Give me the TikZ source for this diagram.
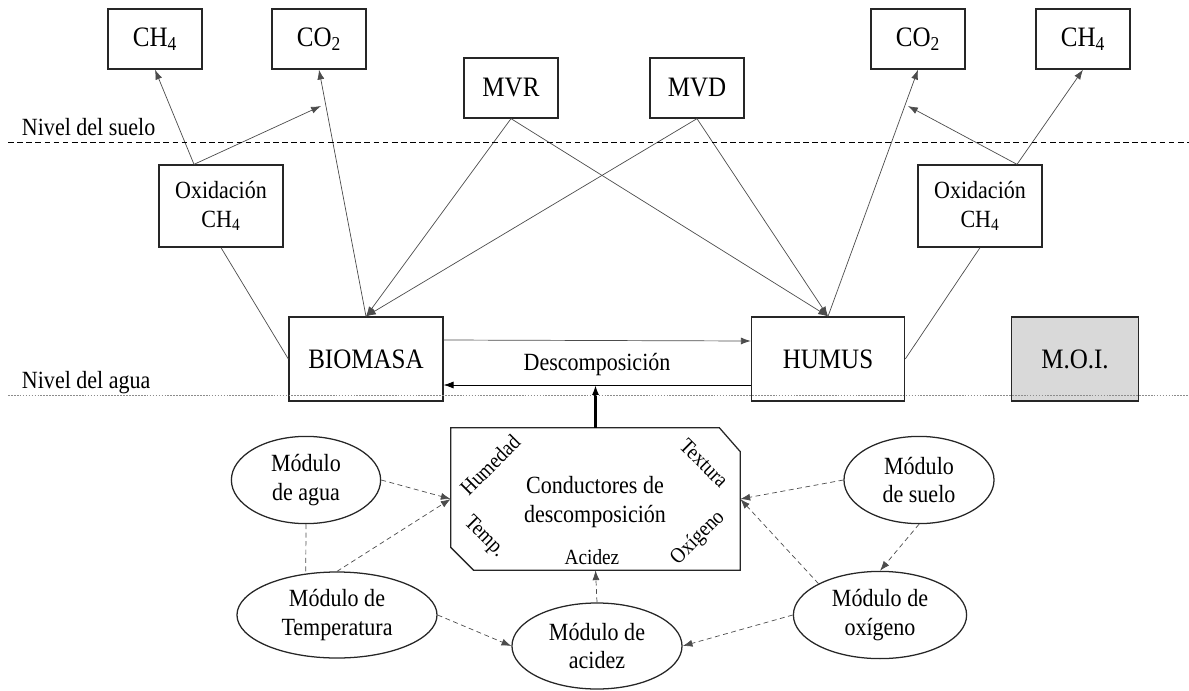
\documentclass[tikz,border=0pt]{standalone}
\usepackage{fontspec}
\setmainfont{Liberation Serif}[FakeStretch=0.89]
\usetikzlibrary{shapes.geometric,arrows.meta,calc}

\newcommand{\bigtxt}{\fontsize{20}{23}\selectfont}
\newcommand{\midtxt}{\fontsize{17.6}{20.5}\selectfont}
\newcommand{\smalltxt}{\fontsize{15.4}{18}\selectfont}

\begin{document}
\begin{tikzpicture}[x=0.025cm, y=-0.025cm,
    box/.style={draw=black!85, line width=0.9pt, inner sep=0pt, align=center},
    gasbox/.style={box, minimum width=2.35cm, minimum height=1.5cm, font=\bigtxt},
    poolbox/.style={box, minimum height=2.1cm, font=\bigtxt},
    oxbox/.style={box, minimum width=3.1cm, minimum height=2.05cm, font=\midtxt},
    oval/.style={ellipse, draw=black!85, line width=0.9pt, inner sep=0pt, align=center, font=\midtxt},
    link/.style={draw=black!70, line width=0.5pt},
    flow/.style={link, -{Latex[length=7pt,width=5pt]}},
    dlink/.style={link, dash pattern=on 3.5pt off 2.5pt},
    dflow/.style={dlink, -{Latex[length=7pt,width=5pt]}}]

    \useasboundingbox (0,0) rectangle (1189,690);

    %% Gases above the soil

    % Left side
    \node[gasbox] (ch4l) at (155,39) {CH\textsubscript{4}};
    \node[gasbox] (co2l) at (319,39) {CO\textsubscript{2}};

    % Plant material
    \node[gasbox] (mvr) at (511,88) {MVR};
    \node[gasbox] (mvd) at (697,88) {MVD};

    % Right side
    \node[gasbox] (co2r) at (918,39) {CO\textsubscript{2}};
    \node[gasbox] (ch4r) at (1083,39) {CH\textsubscript{4}};

    %% Oxidation layer
    \node[oxbox] (oxl) at (221,206) {Oxidación\\CH\textsubscript{4}};
    \node[oxbox] (oxr) at (980,206) {Oxidación\\CH\textsubscript{4}};

    %% Pools
    \node[poolbox, minimum width=3.85cm] (biomasa) at (366,359) {BIOMASA};
    \node[poolbox, minimum width=3.83cm] (humus) at (828,359) {HUMUS};
    \node[poolbox, minimum width=3.18cm, fill=black!15] (moi) at (1075,359) {M.O.I.};
    \node[font=\midtxt] (desc) at (597,365) {Descomposición};

    %% Decomposition drivers
    \node[minimum width=7.225cm, minimum height=3.55cm] (cond) at (595.5,499) {};
    \draw[line width=0.9pt, black!85] (cond.north west) -- ($(cond.north east)+(-21,0)$)
        -- ($(cond.north east)+(0,24)$) -- (cond.south east)
        -- ($(cond.south west)+(23,0)$) -- ($(cond.south west)+(0,-23)$) -- cycle;
    \node[font=\midtxt, align=center] (condtxt) at (595,502) {Conductores de\\descomposición};
    \node[font=\smalltxt, rotate=45] (hum) at (490,465) {Humedad};
    \node[font=\smalltxt, rotate=-45] (tex) at (704,463) {Textura};
    \node[font=\smalltxt, rotate=-45] (tmp) at (484,537) {Temp.};
    \node[font=\smalltxt, rotate=45] (oxg) at (698,538) {Oxígeno};
    \node[font=\smalltxt] (aci) at (592,557) {Acidez};

    %% Modules
    \node[oval, minimum width=3.73cm, minimum height=2.18cm] (agua) at (306,480) {Módulo\\de agua};
    \node[oval, minimum width=3.75cm, minimum height=2.18cm] (suelo) at (919,480) {Módulo\\de suelo};
    \node[oval, minimum width=5cm, minimum height=2.15cm] (temp) at (337,615) {Módulo de\\Temperatura};
    \node[oval, minimum width=4.25cm, minimum height=2.15cm] (acidez) at (597,646) {Módulo de\\acidez};
    \node[oval, minimum width=4.33cm, minimum height=2.18cm] (oxig) at (880,615) {Módulo de\\oxígeno};

    %% Fluxes, left
    \coordinate (oxltop) at ($(oxl.north)+(-27,0)$);
    \coordinate (co2lhit) at (321,106);
    \draw[flow] (oxltop) -- (ch4l.south);
    \draw[flow] (oxltop) -- (co2lhit);
    \draw[flow] (biomasa.north) -- (co2l.south);
    \draw[link] (oxl.south) -- (biomasa.west);

    %% Fluxes, right
    \coordinate (oxrtop) at ($(oxr.north)+(37,0)$);
    \coordinate (co2rhit) at (908,106);
    \draw[flow] (oxrtop) -- (ch4r.south);
    \draw[flow] (oxrtop) -- (co2rhit);
    \draw[flow] (humus.north) -- (co2r.south);
    \draw[link] (oxr.south) -- (humus.east);

    %% Plant inputs
    \draw[flow] (mvr.south) -- (biomasa.north);
    \draw[flow] (mvr.south) -- (humus.north);
    \draw[flow] (mvd.south) -- (biomasa.north);
    \draw[flow] (mvd.south) -- (humus.north);

    %% Decomposition
    \coordinate (backl) at ($(biomasa.east)+(0,26)$);
    \draw[flow] ($(biomasa.east)+(0,-19)$) -- ($(humus.west)+(0,-18)$);
    \draw[flow, draw=black] ($(humus.west)+(0,26)$) -- (backl);
    \draw[line width=1.8pt, -{Latex[length=7pt,width=5pt]}] (cond.north) -- (cond.north |- backl);

    %% Module links
    \draw[dflow] (agua.east) -- (cond.west);
    \draw[dflow] (temp.north) -- (cond.west);
    \draw[dlink] (agua.south) -- (temp.127);
    \draw[dflow] (temp.east) -- (acidez.west);
    \draw[dflow] (acidez.north) -- (cond.south);
    \draw[dflow] (suelo.west) -- (cond.east);
    \draw[dflow] (oxig.153) -- (cond.east);
    \draw[dflow] (suelo.south) -- (oxig.north);
    \draw[dflow] (oxig.west) -- (acidez.east);

    %% Levels
    \node[font=\midtxt, anchor=base west] (suelolbl) at (17,135) {Nivel del suelo};
    \node[font=\midtxt, anchor=base west] (agualbl) at (17,388) {Nivel del agua};
    \coordinate (s1) at (8,142);
    \coordinate (s2) at (1189,142);
    \coordinate (w1) at (8,395);
    \coordinate (w2) at (1189,395);
    \draw[line width=0.6pt, dash pattern=on 4pt off 2.5pt] (s1) -- (s2);
    \draw[line width=0.6pt, black!45, dash pattern=on 1.2pt off 0.9pt] (w1) -- (w2);

\end{tikzpicture}
\end{document}
